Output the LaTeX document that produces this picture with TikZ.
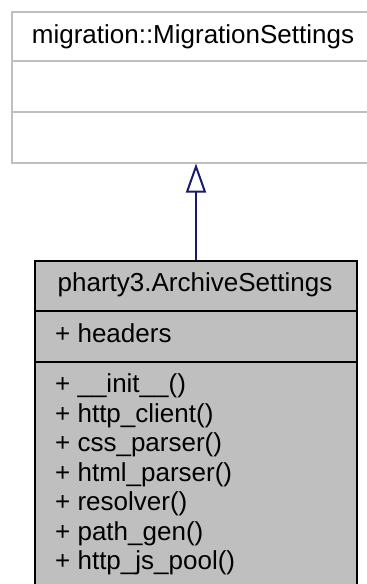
\documentclass[tikz,border=0pt]{standalone}
\usepackage{fontspec}
\setmainfont{Liberation Sans}
\usetikzlibrary{positioning,arrows.meta}
\definecolor{boxgray}{HTML}{BFBFBF}
\definecolor{linkblue}{HTML}{191970}

\begin{document}
\begin{tikzpicture}[x=1pt,y=-1pt,
				every node/.style={inner sep=0pt, font=\fontsize{26}{30}\selectfont},
				basebox/.style={rectangle, draw=boxgray, line width=1.5pt, fill=white, anchor=north west},
				derivedbox/.style={rectangle, draw=black, line width=2pt, fill=boxgray, anchor=north west},
				member/.style={anchor=base west}
				]
				\clip (0,0) rectangle (367,584);
				% base class
				\node[basebox, minimum width=364pt, minimum height=151pt] (base) at (11,11) {};
				\draw[boxgray, line width=1.5pt] (base.west |- 0,61) -- (base.east |- 0,61);
				\draw[boxgray, line width=1.5pt] (base.west |- 0,112) -- (base.east |- 0,112);
				\node[anchor=base] (basename) at (193,43) {migration::MigrationSettings};
				% derived class
				\node[derivedbox, minimum width=322pt, minimum height=360pt] (derived) at (34,260) {};
				\draw[black, line width=2pt] (derived.west |- 0,311) -- (derived.east |- 0,311);
				\draw[black, line width=2pt] (derived.west |- 0,362) -- (derived.east |- 0,362);
				\node[anchor=base] (derivedname) at (195,291) {pharty3.ArchiveSettings};
				\node[member] (headers) at (55,342) {+ headers};
				\foreach \m [count=\i from 0] in {\_\_init\_\_(), http\_client(), css\_parser(), html\_parser(), resolver(), path\_gen(), http\_js\_pool()}
					\node[member] (method\i) at (55,392.5+29.5*\i) {+ \m};
				% inheritance
				\draw[-{Triangle[open, length=29pt, width=20pt]}, linkblue, line width=2pt] (derived.north) to (derived.north |- base.south);
			\end{tikzpicture}
\end{document}
